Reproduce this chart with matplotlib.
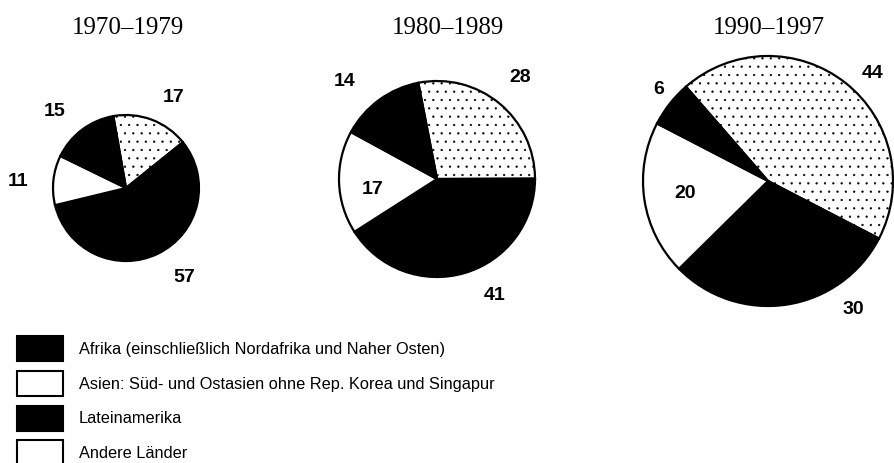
import numpy as np
import matplotlib.pyplot as plt
from matplotlib.patches import Patch

# Anteile in % (Reihenfolge im Kreis, im Uhrzeigersinn: Asien, Lateinamerika, Andere, Afrika)
zeitraeume = ['1970–1979', '1980–1989', '1990–1997']
asien = [17, 28, 44]
lateinamerika = [57, 41, 30]
andere = [11, 17, 20]
afrika = [15, 14, 6]

regionen = ['Afrika (einschließlich Nordafrika und Naher Osten)',
            'Asien: Süd- und Ostasien ohne Rep. Korea und Singapur',
            'Lateinamerika',
            'Andere Länder']

# Layout (Pixel, von oben gemessen)
W, H = 894, 463
mitten = [(126, 188), (437, 179), (768, 181)]
radien = [73, 98, 125]
startwinkel = [100, 101, 131]
titel_x = [128, 448, 769]
# je Segment: (Winkelversatz, Abstand in Radien)
label_pos = [
    [(-7, 1.40), (7, 1.46), (3, 1.48), (6, 1.44)],
    [(0, 1.34), (10, 1.33), (7, 0.67), (7, 1.37)],
    [(-6, 1.20), (25, 1.23), (0, 0.67), (-2, 1.14)],
]
farben = ['white', 'black', 'white', 'black']
hatches = ['..', None, None, None]

plt.rcParams['hatch.linewidth'] = 0.4

fig = plt.figure(figsize=(W / 100, H / 100), dpi=100)
ax = fig.add_axes([0, 0, 1, 1])

for i in range(3):
    werte = [asien[i], lateinamerika[i], andere[i], afrika[i]]
    cx, cy = mitten[i]
    r = radien[i]
    wedges, _ = ax.pie(werte, colors=farben, startangle=startwinkel[i], counterclock=False,
                       center=(cx, H - cy), radius=r, frame=True,
                       wedgeprops=dict(edgecolor='black', linewidth=1.6))
    for w, h in zip(wedges, hatches):
        if h:
            w.set_hatch(h)
    for w, v, (dw, dr) in zip(wedges, werte, label_pos[i]):
        mid = np.deg2rad((w.theta1 + w.theta2) / 2 + dw)
        ax.text(cx + dr * r * np.cos(mid), H - cy + dr * r * np.sin(mid), str(v),
                ha='center', va='center', fontsize=14, fontweight='bold',
                family='Liberation Sans')
    ax.text(titel_x[i], H - 25, zeitraeume[i], ha='center', va='center_baseline', fontsize=18,
            family='Liberation Serif')

fs = 11.8
fpx = fs * 100 / 72
handles = [Patch(facecolor=c, edgecolor='black', linewidth=1.5)
           for c in ['black', 'white', 'black', 'white']]
ax.legend(handles, regionen, loc='upper left', bbox_to_anchor=(17 / W, 1 - 336 / H),
          frameon=False, borderpad=0, borderaxespad=0,
          handlelength=46 / fpx, handleheight=33 / fpx, labelspacing=9.3 / fpx,
          handletextpad=0.95, prop=dict(family='Liberation Sans', size=fs))

ax.set_xlim(0, W)
ax.set_ylim(0, H)
ax.set_aspect('equal')
ax.axis('off')

fig.savefig('out.png', dpi=100)
